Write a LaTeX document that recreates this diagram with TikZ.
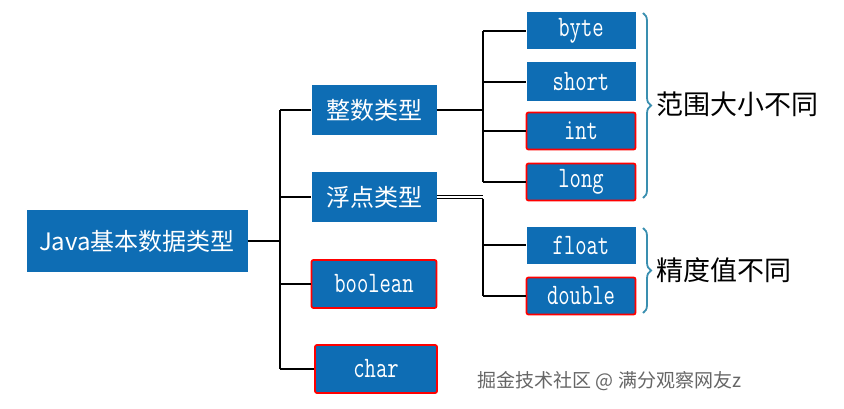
\documentclass[tikz,border=0pt]{standalone}
\usepackage{fontspec}
\usepackage{graphicx}
\setmainfont{Liberation Sans}
\newfontfamily\cjk{Noto Sans CJK SC}
\usetikzlibrary{decorations.pathreplacing}
\definecolor{nb}{HTML}{0E6DB4}
\definecolor{br}{HTML}{3A8FB0}
\newcommand{\tl}[1]{\scalebox{1}[1.35]{#1}}
\begin{document}
\begin{tikzpicture}[x=1pt,y=-1pt,
 box/.style={fill=nb,text=white,minimum width=#1,inner sep=0pt},
 bg/.style={box=109pt,minimum height=37pt,font=\ttfamily\fontsize{22}{22}\selectfont},
 red/.style={draw=red,line width=1.8pt,rounded corners=2pt},
 ln/.style={line width=1.4pt},
 brc/.style={draw=br,line width=1.8pt,decorate,decoration={brace,amplitude=8pt}}]
\useasboundingbox (0,0) rectangle (844,409);
\node[box=221pt,minimum height=62pt,font=\cjk\fontsize{24}{24}\selectfont] (java) at (137,241) {Java基本数据类型};
\node[box=125pt,minimum height=50pt,font=\cjk\fontsize{24}{24}\selectfont] (zs) at (374,110) {整数类型};
\node[box=125pt,minimum height=50pt,font=\cjk\fontsize{24}{24}\selectfont] (fd) at (374,197) {浮点类型};
\node[box=125pt,minimum height=48pt,red,font=\ttfamily\fontsize{22}{22}\selectfont] (bo) at (374,284) {\tl{boolean}};
\node[box=122pt,minimum height=48pt,red,font=\ttfamily\fontsize{22}{22}\selectfont] (ch) at (376,369) {\tl{char}};
\node[bg] (by) at (581,31) {\tl{byte}};
\node[bg,minimum height=39pt] (sh) at (581,82) {\tl{short}};
\node[bg,red] (in) at (581,131) {\tl{int}};
\node[bg,red] (lo) at (581,182) {\tl{long}};
\node[bg] (fl) at (581,245) {\tl{float}};
\node[bg,red] (db) at (581,296) {\tl{double}};
\coordinate (a) at (280,0);
\coordinate (b) at (483,0);
\draw[ln] (java.east) -- (java.east -| a);
\draw[ln] (zs.west -| a) -- (ch.west -| a);
\foreach \n in {zs,fd,bo,ch} \draw[ln] (\n.west -| a) -- (\n.west);
\draw[ln] (zs.east) -- (zs.east -| b);
\draw[ln] (by.west -| b) -- (lo.west -| b);
\foreach \n in {by,sh,in,lo} \draw[ln] (\n.west -| b) -- (\n.west);
\draw[line width=1pt] ([yshift=-1.5pt]fd.east) -- ([yshift=-1.5pt]fd.east -| b);
\draw[line width=1pt] ([yshift=1.5pt]fd.east) -- ([yshift=1.5pt]fd.east -| b);
\draw[ln] ([yshift=-2pt]fd.east -| b) -- (db.west -| b);
\foreach \n in {fl,db} \draw[ln] (\n.west -| b) -- (\n.west);
\draw[brc] (643,13) -- (643,198);
\draw[brc] (643,228) -- (643,313);
\node[font=\cjk\fontsize{27}{27}\selectfont,anchor=west] (t1) at (653,104) {范围大小不同};
\node[font=\cjk\fontsize{27}{27}\selectfont,anchor=west] (t2) at (653,270) {精度值不同};
\node[font=\cjk\fontsize{19}{19}\selectfont,text=black!60,anchor=west] (wm) at (474,381) {掘金技术社区 @ 满分观察网友z};
\end{tikzpicture}
\end{document}
